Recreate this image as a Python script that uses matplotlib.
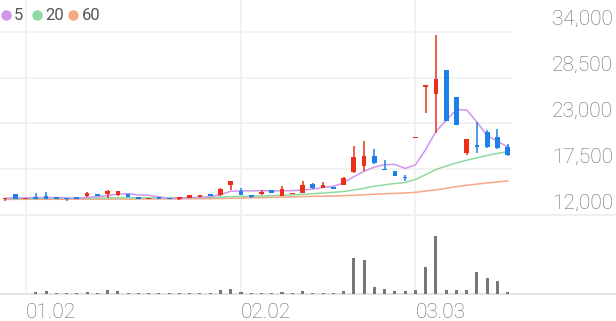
import numpy as np
import matplotlib.pyplot as plt
from matplotlib.lines import Line2D

# Candle data ----
opens = [13890, 14520, 13890, 14200, 14280, 14200, 14040, 14200, 14280, 14520,
         14520, 14440, 14520, 14128, 13890, 14128, 13960, 13890, 14080, 14130,
         14520, 14370, 15570, 14920, 14400, 14524, 15004, 14284, 14490, 14608,
         15724, 15244, 15328, 15640, 17164, 17884, 19084, 17560, 17320, 16600,
         21200, 27400, 26524, 29404, 26200, 19408, 20440, 21928, 21328, 20200]
highs = [14010, 14520, 14000, 14600, 14800, 14200, 14040, 14200, 14760, 14520,
         15040, 14920, 14520, 14128, 14044, 14128, 13960, 14130, 14404, 14360,
         14520, 15240, 16050, 15240, 14400, 15000, 15004, 15484, 14610, 16120,
         15800, 15964, 15328, 16600, 20284, 20848, 19924, 18604, 17320, 16804,
         21300, 27560, 33640, 29404, 26200, 21088, 23200, 22204, 22324, 20524]
lows = [13700, 13890, 13890, 13960, 13960, 13890, 13720, 13960, 14130, 14280,
        14080, 14280, 14128, 13888, 13890, 13888, 13890, 13800, 14080, 14130,
        14280, 14280, 15000, 14370, 14044, 14400, 14600, 14284, 14490, 14608,
        15090, 15244, 15088, 15640, 17008, 17320, 18124, 17404, 16684, 16084,
        21200, 24280, 21808, 23320, 22840, 19204, 19480, 20100, 19960, 19084]
closes = [14010, 13890, 13950, 13960, 13960, 13890, 13890, 13960, 14610, 14280,
          14850, 14920, 14128, 13888, 14044, 13888, 13890, 14130, 14404, 14360,
          14280, 15090, 16050, 14370, 14200, 14764, 14680, 15090, 14610, 15570,
          15208, 15640, 15088, 16444, 18928, 19120, 18280, 17404, 16684, 16444,
          21250, 27500, 28288, 23320, 22840, 21088, 20200, 20200, 20008, 19204]

ma5 = [14000, 14050, 14050, 14100, 14100, 14080, 14020, 14000, 14100, 14200,
       14330, 14520, 14560, 14410, 14370, 14180, 13970, 13970, 14070, 14130,
       14210, 14450, 14850, 14900, 14900, 14920, 14900, 14900, 14920, 15000,
       15100, 15300, 15450, 15850, 16600, 17250, 17750, 18035, 18083, 17586,
       18012, 19856, 22033, 23360, 24640, 24607, 23147, 21530, 20867, 20140]
ma20 = [13950, 13960, 13970, 13980, 14000, 14000, 14000, 14010, 14020, 14030,
        14050, 14070, 14080, 14080, 14080, 14080, 14080, 14080, 14090, 14100,
        14110, 14150, 14200, 14230, 14250, 14280, 14320, 14380, 14420, 14480,
        14560, 14640, 14720, 14820, 15000, 15200, 15450, 15620, 15780, 15900,
        16250, 16850, 17450, 17880, 18250, 18580, 18860, 19150, 19400, 19600]
ma60 = [13880, 13880, 13885, 13885, 13890, 13890, 13890, 13895, 13900, 13900,
        13905, 13910, 13915, 13920, 13925, 13930, 13935, 13940, 13950, 13955,
        13960, 13980, 14000, 14030, 14060, 14090, 14120, 14150, 14180, 14210,
        14240, 14260, 14280, 14320, 14360, 14420, 14480, 14540, 14590, 14640,
        14720, 14880, 15010, 15200, 15400, 15570, 15700, 15850, 15970, 16080]

volumes = [2, 2, 2, 15, 25, 7, 7, 7, 17, 8,
           33, 23, 8, 7, 7, 7, 7, 7, 7, 7,
           8, 40, 47, 20, 8, 8, 12, 20, 8, 27,
           10, 10, 10, 27, 360, 337, 70, 47, 27, 27,
           37, 264, 580, 40, 33, 37, 220, 154, 127, 17]

price_ticks = [12000, 17500, 23000, 28500, 34000]
date_labels = ['01.02', '02.02', '03.03']
date_index = [2, 23, 40]

ma_names = ['5', '20', '60']
ma_colors = ['#d195f0', '#8fd9a3', '#f7a784']
up_color = '#eb2f1b'
down_color = '#1b80ea'

plt.rcParams['font.family'] = ['Roboto', 'DejaVu Sans']

W, H = 616, 321
fig = plt.figure(figsize=(W / 100, H / 100), dpi=100)
ax = fig.add_axes([0, 1 - 215 / H, 512 / W, 215 / H])
axv = fig.add_axes([0, 1 - 293.7 / H, 512 / W, 78.7 / H])

x = np.arange(len(closes))
o = np.array(opens)
c = np.array(closes)
colors = np.where(c >= o, up_color, down_color)

# Price panel ----
ax.vlines(x, lows, highs, colors=colors, linewidth=1.1, zorder=3)
ax.bar(x, np.maximum(np.abs(c - o), 150), bottom=np.minimum(o, c),
       width=0.46, color=colors, zorder=4)
for vals, col in zip([ma60, ma20, ma5], ma_colors[::-1]):
    ax.plot(x, vals, color=col, linewidth=1.1, zorder=2)

ax.set_xlim(-5 / 10.26, 507 / 10.26)
ax.set_ylim(12000, 12000 + 215 * 120)
for t in price_ticks:
    ax.axhline(t, color='#f0f0f0', linewidth=1.2, zorder=0)
    ax.annotate(f'{t:,}', xy=(613 / W, t), xycoords=('figure fraction', 'data'),
                xytext=(0, 4.7), textcoords='offset points', ha='right',
                va='baseline', fontsize=15, color='#6a6a6a',
                fontweight='light', annotation_clip=False)
for d in date_index:
    ax.axvline(d, color='#f0f0f0', linewidth=1.2, zorder=0)
ax.axis('off')

# Volume panel ----
axv.bar(x, volumes, width=0.3, color='#777777')
axv.set_xlim(ax.get_xlim())
axv.set_ylim(0, 580 * 78.7 / 58)
for d, lab in zip(date_index, date_labels):
    axv.axvline(d, color='#f0f0f0', linewidth=1.2, zorder=0)
    axv.annotate(lab, xy=(d, 0), xycoords=('data', 'axes fraction'),
                 xytext=(0, -17.5), textcoords='offset points', ha='left',
                 va='baseline', fontsize=15, color='#6a6a6a',
                 fontweight='light', annotation_clip=False)
axv.axis('off')

# full-width border lines
for yp, col in [(215, '#eeeeee'), (293.7, '#dddddd')]:
    fig.add_artist(Line2D([0, 1], [1 - yp / H] * 2, color=col, linewidth=1.2,
                          transform=fig.transFigure, zorder=0))

# Legend ----
for name, col, xc, xt in zip(ma_names, ma_colors, [6, 37, 73], [14, 45, 82]):
    fig.add_artist(Line2D([xc / W], [1 - 15 / H], marker='o', markersize=6.5,
                          color=col, linestyle='none', transform=fig.transFigure))
    fig.text(xt / W, 1 - 15 / H, name, va='center', ha='left', fontsize=12,
             color='#555555')

fig.savefig('out.png', dpi=100)
